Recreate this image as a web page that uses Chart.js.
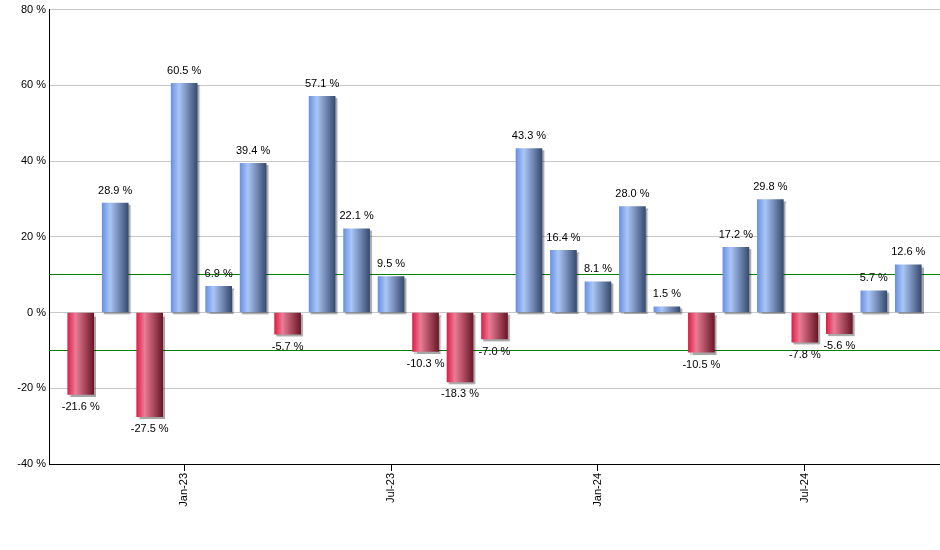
<!DOCTYPE html>
<html>
<head>
<meta charset="utf-8">
<script src="https://cdn.jsdelivr.net/npm/chart.js@4"></script>
<style>
  body { margin: 0; background: #fff; }
  canvas { display: block; }
</style>
</head>
<body>
<canvas id="chart" width="940" height="550"></canvas>
<script>
// monthly returns, Oct-22 .. Oct-24
const months = ['Oct-22', 'Nov-22', 'Dec-22', 'Jan-23', 'Feb-23', 'Mar-23', 'Apr-23', 'May-23', 'Jun-23',
    'Jul-23', 'Aug-23', 'Sep-23', 'Oct-23', 'Nov-23', 'Dec-23', 'Jan-24', 'Feb-24', 'Mar-24', 'Apr-24',
    'May-24', 'Jun-24', 'Jul-24', 'Aug-24', 'Sep-24', 'Oct-24'];
const returns = [-21.6, 28.9, -27.5, 60.5, 6.9, 39.4, -5.7, 57.1, 22.1, 9.5, -10.3, -18.3, -7.0,
    43.3, 16.4, 8.1, 28.0, 1.5, -10.5, 17.2, 29.8, -7.8, -5.6, 5.7, 12.6];
const yTicks = [-40, -20, 0, 20, 40, 60, 80];
const bands = [10, -10];

const shownTicks = months.map((m, i) => i).filter(i => /^(Jan|Jul)/.test(months[i]));
const BAR_W = 26;
const FONT = '"Liberation Sans", Arial, sans-serif';

function barFill(c) {
    const chart = c.chart;
    const xs = chart.scales.x;
    const pos = returns[c.dataIndex] >= 0;
    if (!xs || c.dataIndex === undefined) return pos ? '#7f9fdf' : '#c04060';
    const cx = xs.getPixelForValue(c.dataIndex);
    if (!isFinite(cx)) return pos ? '#7f9fdf' : '#c04060';
    const g = chart.ctx.createLinearGradient(cx - BAR_W / 2, 0, cx + BAR_W / 2, 0);
    if (pos) {
        g.addColorStop(0, '#6a91e2');
        g.addColorStop(0.3, '#aac6f7');
        g.addColorStop(1, '#384b70');
    } else {
        g.addColorStop(0, '#de1f4a');
        g.addColorStop(0.3, '#ea7c94');
        g.addColorStop(1, '#6a1828');
    }
    return g;
}

// green +/-10 % lines, behind the bars
const bandLines = {
    id: 'bandLines',
    beforeDatasetsDraw(chart) {
        const ctx = chart.ctx;
        const a = chart.chartArea;
        ctx.save();
        ctx.shadowColor = 'rgba(0,0,0,0)';
        ctx.fillStyle = '#008000';
        bands.forEach(v => {
            const y = Math.floor(chart.scales.y.getPixelForValue(v));
            ctx.fillRect(a.left, y, a.right - a.left, 1);
        });
        ctx.restore();
    }
};

// bar shadow and value labels
const barExtras = {
    id: 'barExtras',
    beforeDatasetDraw(chart) {
        const ctx = chart.ctx;
        ctx.save();
        ctx.shadowColor = 'rgba(0,0,0,0.35)';
        ctx.shadowOffsetX = 2;
        ctx.shadowOffsetY = 2;
        ctx.shadowBlur = 1;
    },
    afterDatasetDraw(chart) {
        chart.ctx.restore();
    },
    afterDatasetsDraw(chart) {
        const ctx = chart.ctx;
        ctx.save();
        ctx.font = '11px ' + FONT;
        ctx.fillStyle = '#000';
        ctx.textAlign = 'center';
        chart.getDatasetMeta(0).data.forEach((bar, i) => {
            const v = returns[i];
            const txt = v.toFixed(1) + ' %';
            if (v >= 0) {
                ctx.textBaseline = 'bottom';
                ctx.fillText(txt, bar.x, bar.y - 7);
            } else {
                ctx.textBaseline = 'top';
                ctx.fillText(txt, bar.x, bar.y + 7);
            }
        });
        ctx.restore();
    }
};

new Chart(document.getElementById('chart'), {
    type: 'bar',
    data: {
        datasets: [{
            data: returns.map((v, i) => ({ x: i, y: v })),
            backgroundColor: barFill,
            borderWidth: 0,
            barThickness: BAR_W
        }]
    },
    options: {
        responsive: false,
        animation: false,
        devicePixelRatio: 1,
        layout: { padding: { top: 1, right: 0, bottom: 0, left: 0 } },
        plugins: { legend: { display: false }, tooltip: { enabled: false } },
        scales: {
            x: {
                type: 'linear',
                offset: false,
                min: -0.92,
                max: 24.92,
                afterBuildTicks: s => { s.ticks = shownTicks.map(v => ({ value: v })); },
                afterFit: s => { s.height = 86; },
                ticks: {
                    autoSkip: false,
                    maxRotation: 90,
                    minRotation: 90,
                    padding: 2,
                    color: '#000',
                    font: { family: FONT, size: 11 },
                    callback: v => months[v]
                },
                grid: { display: true, offset: false, drawOnChartArea: false, drawTicks: true, tickLength: 7, color: '#000' },
                border: { color: '#000', width: 1 }
            },
            y: {
                min: -40,
                max: 80,
                afterBuildTicks: s => { s.ticks = yTicks.map(v => ({ value: v })); },
                afterFit: s => { s.width = 49; },
                ticks: {
                    padding: 3,
                    color: '#000',
                    font: { family: FONT, size: 11 },
                    callback: v => v + ' %'
                },
                grid: { color: '#c8c8c8', drawTicks: false },
                border: { color: '#000', width: 1 }
            }
        }
    },
    plugins: [bandLines, barExtras]
});
</script>
</body>
</html>
